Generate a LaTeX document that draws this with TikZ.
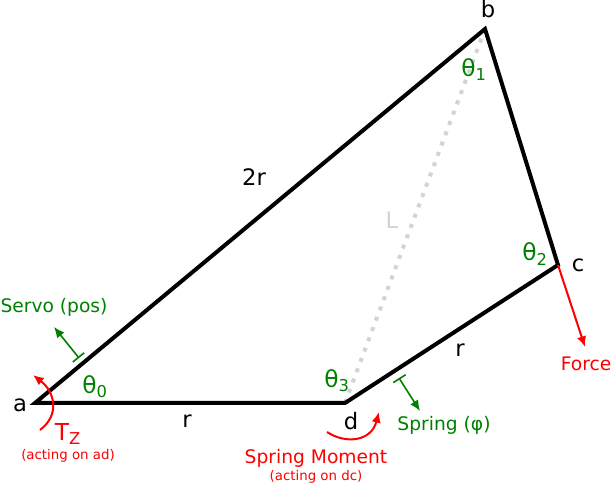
\documentclass[tikz,border=0pt]{standalone}
\usepackage{fontspec}
\setmainfont{DejaVu Sans}
\usetikzlibrary{arrows.meta}
\definecolor{labelgreen}{RGB}{0,128,0}
\definecolor{lightline}{RGB}{211,211,211}
\tikzset{
	link/.style={line width=3pt, line join=miter},
	black label/.style={font=\fontsize{17}{20}\selectfont},
	theta label/.style={text=labelgreen, font=\fontsize{17.5}{20}\selectfont},
	green label/.style={text=labelgreen, font=\fontsize{14}{17}\selectfont},
	red label/.style={text=red, font=\fontsize{14}{17}\selectfont},
	small label/.style={text=red, font=\fontsize{10}{12}\selectfont},
	reaction/.style={labelgreen, line width=1.2pt, {Bar[width=11pt]}-{Latex[length=8pt,width=7pt]}},
	moment/.style={red, line width=1.5pt, -{Latex[length=8pt,width=7pt]}},
}
\begin{document}
\begin{tikzpicture}[x=0.75pt, y=-0.75pt]
	\useasboundingbox (0,0) rectangle (611,484);
	\coordinate(A) at (35,403);
	\coordinate(B) at (485,29);
	\coordinate(C) at (558,265);
	\coordinate(D) at (345,403);
	\coordinate(ServoBase) at (79,358);
	\coordinate(ServoTip) at (54,327);
	\coordinate(SpringBase) at (399,378);
	\coordinate(SpringTip) at (420,411);
	\coordinate(ForceTip) at (585,347);
	\coordinate(TzStart) at (40,430);
	\coordinate(TzEnd) at (33,375);
	\coordinate(MomentStart) at (327,432);
	\coordinate(MomentEnd) at (379,412);
	\draw [lightline, line width=3pt, dash pattern=on 3pt off 5.25pt] (D) -- (B);
	\draw [link] (A) -- (B) -- (C) -- (D) -- cycle;
	\draw [moment] (C) -- (ForceTip);
	\draw [reaction] (ServoBase) -- (ServoTip);
	\draw [reaction] (SpringBase) -- (SpringTip);
	\draw [moment] (TzStart) .. controls (60,415) and (55,392) .. (TzEnd);
	\draw [moment] (MomentStart) .. controls (345,444) and (371,442) .. (MomentEnd);
	\node[black label](a) at (20,405){a};
	\node[black label](b) at (488,9){b};
	\node[black label](c) at (578,265){c};
	\node[black label](d) at (351,421){d};
	\node[black label](top) at (254,177){2r};
	\node[black label](bottom) at (187,421){r};
	\node[black label](right) at (460,350){r};
	\node[black label, text=lightline](L) at (392,220){L};
	\node[theta label](T0) at (95,387){θ\textsubscript{0}};
	\node[theta label](T1) at (474,70){θ\textsubscript{1}};
	\node[theta label](T2) at (535,254){θ\textsubscript{2}};
	\node[theta label](T3) at (337,381){θ\textsubscript{3}};
	\node[green label](servo) at (54,307){Servo (pos)};
	\node[green label](spring) at (444,425){Spring (φ)};
	\node[red label](force) at (586,364){Force};
	\node[red label, font=\fontsize{17.5}{20}\selectfont](tz) at (68,434){T\textsubscript{Z}};
	\node[small label](tzNote) at (68,456){(acting on ad)};
	\node[red label](spm) at (316,458){Spring Moment};
	\node[small label](spmNote) at (316,477){(acting on dc)};
\end{tikzpicture}
\end{document}
